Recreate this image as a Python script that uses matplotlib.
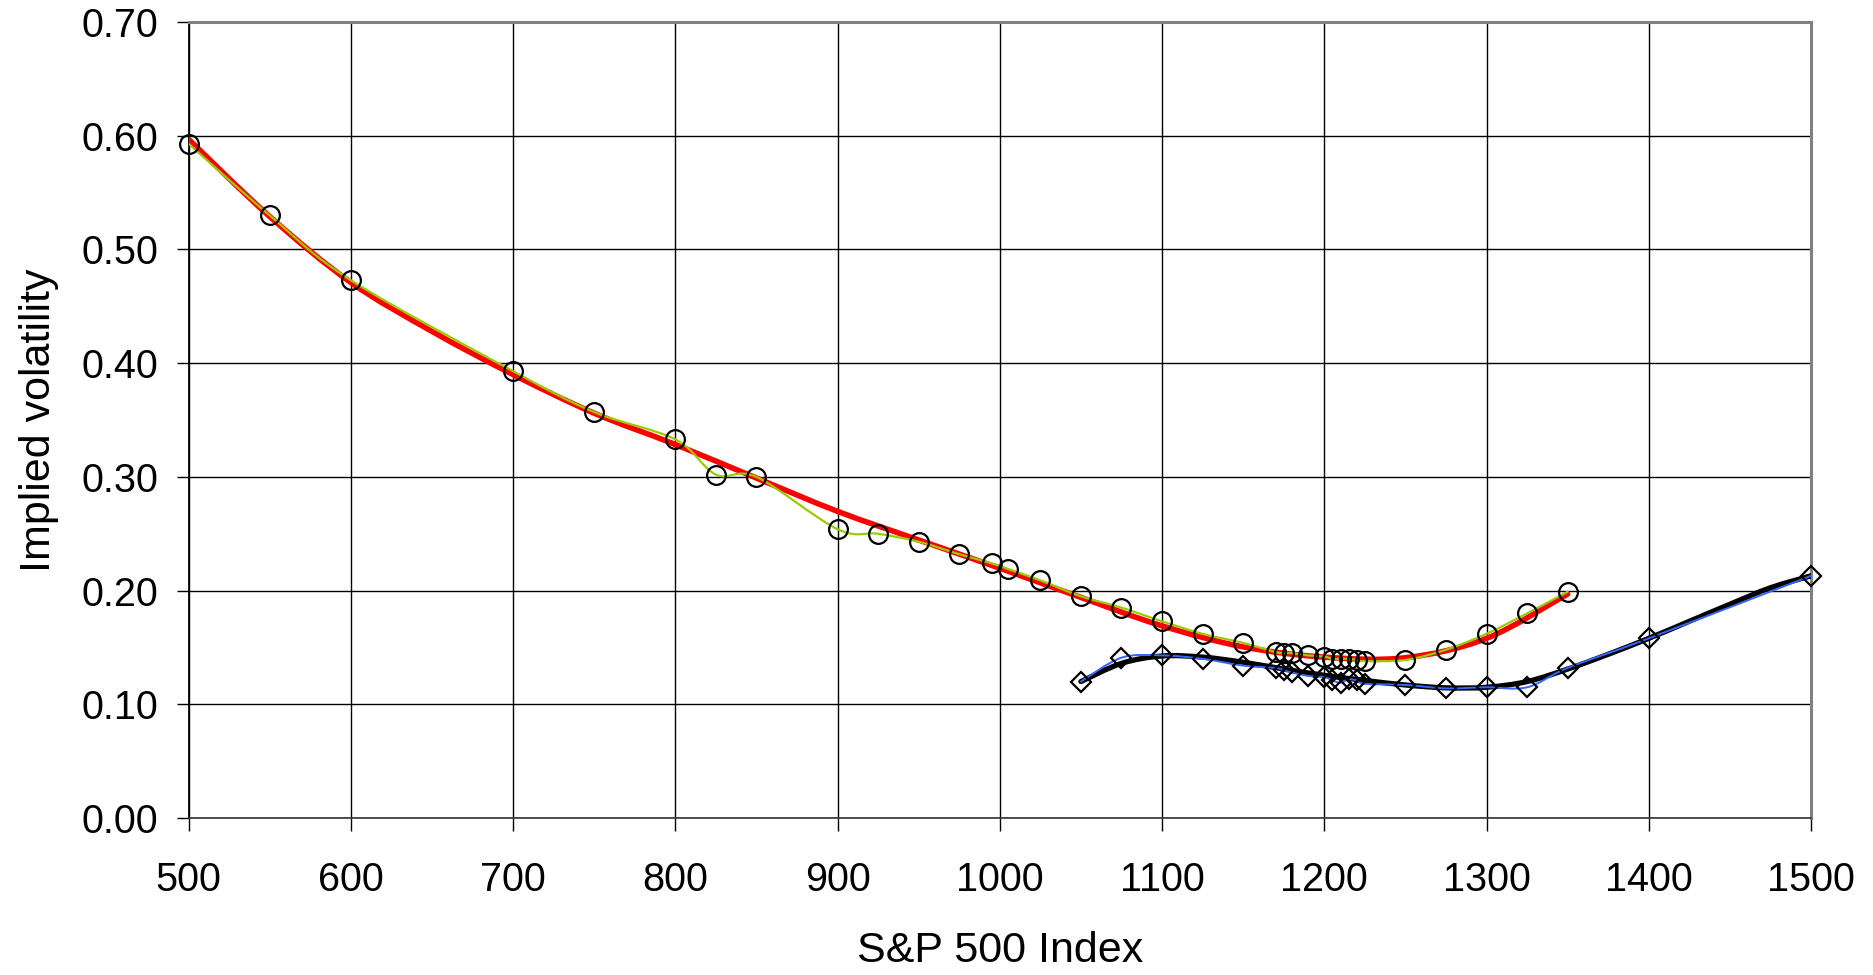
import numpy as np
import matplotlib
matplotlib.use('Agg')
import matplotlib.pyplot as plt
from matplotlib.path import Path
from matplotlib.patches import PathPatch

plt.rcParams['font.family'] = ['Liberation Sans', 'DejaVu Sans']

# market implied vols, near-term expiry (circles)
strikes_a = [500, 550, 600, 700, 750, 800, 825, 850, 900, 925, 950, 975, 995, 1005,
             1025, 1050, 1075, 1100, 1125, 1150, 1170, 1175, 1180, 1190, 1200, 1205,
             1210, 1215, 1220, 1225, 1250, 1275, 1300, 1325, 1350]
vols_a = [0.593, 0.530, 0.473, 0.393, 0.357, 0.333, 0.302, 0.300, 0.254, 0.250, 0.243,
          0.232, 0.224, 0.219, 0.209, 0.195, 0.185, 0.173, 0.162, 0.154, 0.146, 0.145,
          0.145, 0.143, 0.142, 0.140, 0.140, 0.140, 0.139, 0.138, 0.139, 0.148, 0.162,
          0.180, 0.199]

# market implied vols, longer expiry (diamonds)
strikes_b = [1050, 1075, 1100, 1125, 1150, 1170, 1175, 1180, 1190, 1200, 1205, 1210,
             1215, 1220, 1225, 1250, 1275, 1300, 1325, 1350, 1400, 1500]
vols_b = [0.120, 0.141, 0.143, 0.140, 0.134, 0.132, 0.130, 0.128, 0.125, 0.124, 0.121,
          0.119, 0.122, 0.121, 0.118, 0.117, 0.114, 0.115, 0.115, 0.132, 0.158, 0.213]

# fitted smile curves
fit_x_a = [500, 550, 600, 650, 700, 750, 800, 850, 900, 950, 1000, 1050, 1100, 1150,
           1200, 1250, 1300, 1350]
fit_y_a = [0.597, 0.529, 0.471, 0.428, 0.390, 0.356, 0.3285, 0.299, 0.2697, 0.2445,
           0.2197, 0.194, 0.169, 0.1505, 0.1415, 0.141, 0.158, 0.197]
fit_x_b = [1050, 1075, 1100, 1125, 1150, 1175, 1200, 1225, 1250, 1275, 1300, 1325,
           1350, 1375, 1400, 1425, 1450, 1475, 1500]
fit_y_b = [0.120, 0.136, 0.1425, 0.1415, 0.137, 0.131, 0.1255, 0.121, 0.117, 0.1145,
           0.115, 0.120, 0.131, 0.144, 0.158, 0.173, 0.188, 0.2025, 0.213]


def smooth_path(xs, ys):
    """Bezier path through the points, spreadsheet-style smoothing."""
    pts = np.column_stack([xs, ys]).astype(float)
    n = len(pts)
    verts = [pts[0]]
    codes = [Path.MOVETO]
    for i in range(n - 1):
        p0 = pts[max(i - 1, 0)]
        p1 = pts[i]
        p2 = pts[i + 1]
        p3 = pts[min(i + 2, n - 1)]
        verts += [p1 + (p2 - p0) / 6, p2 - (p3 - p1) / 6, p2]
        codes += [Path.CURVE4] * 3
    return Path(verts, codes)


def add_curve(ax, xs, ys, color, lw, z):
    patch = PathPatch(smooth_path(xs, ys), facecolor='none', edgecolor=color,
                      linewidth=lw, zorder=z, capstyle='round', joinstyle='round')
    ax.add_patch(patch)


fig = plt.figure(figsize=(18.74, 9.75), dpi=100)
ax = fig.add_axes([0.1006, 0.161, 0.8658, 0.8164])

add_curve(ax, fit_x_a, fit_y_a, '#ff0000', 4.0, 3)
add_curve(ax, strikes_a, vols_a, '#99cc00', 1.6, 4)
add_curve(ax, fit_x_b, fit_y_b, '#000000', 3.8, 3)
add_curve(ax, strikes_b, vols_b, '#3366ff', 1.4, 4)

ax.plot(strikes_a, vols_a, 'o', ms=13.5, mfc='none', mec='black', mew=1.6,
        zorder=5, clip_on=False)
ax.plot(strikes_b, vols_b, 'D', ms=10, mfc='none', mec='black', mew=1.6,
        zorder=5, clip_on=False)

ax.set_xlim(500, 1500)
ax.set_ylim(0, 0.70)
ax.set_xticks(np.arange(500, 1501, 100))
ax.set_yticks(np.arange(0, 0.701, 0.1))
ax.yaxis.set_major_formatter(plt.FormatStrFormatter('%.2f'))
ax.grid(True, color='black', linewidth=1.0, zorder=0)
ax.set_axisbelow(True)

ax.tick_params(axis='both', direction='out', length=9, width=1.0, labelsize=28.5,
               colors='black')
ax.tick_params(axis='x', pad=22)
ax.tick_params(axis='y', pad=13)

ax.spines['left'].set_color('black')
ax.spines['left'].set_linewidth(1.3)
ax.spines['bottom'].set_color('#333333')
ax.spines['bottom'].set_linewidth(1.2)
for side in ('top', 'right'):
    ax.spines[side].set_color('#808080')
    ax.spines[side].set_linewidth(2.2)

ax.set_xlabel('S&P 500 Index', fontsize=31)
ax.set_ylabel('Implied volatility', fontsize=31)
ax.xaxis.set_label_coords(0.5, -0.142)
ax.yaxis.set_label_coords(-0.080, 0.5)

fig.savefig('out.png', dpi=100, facecolor='white')
